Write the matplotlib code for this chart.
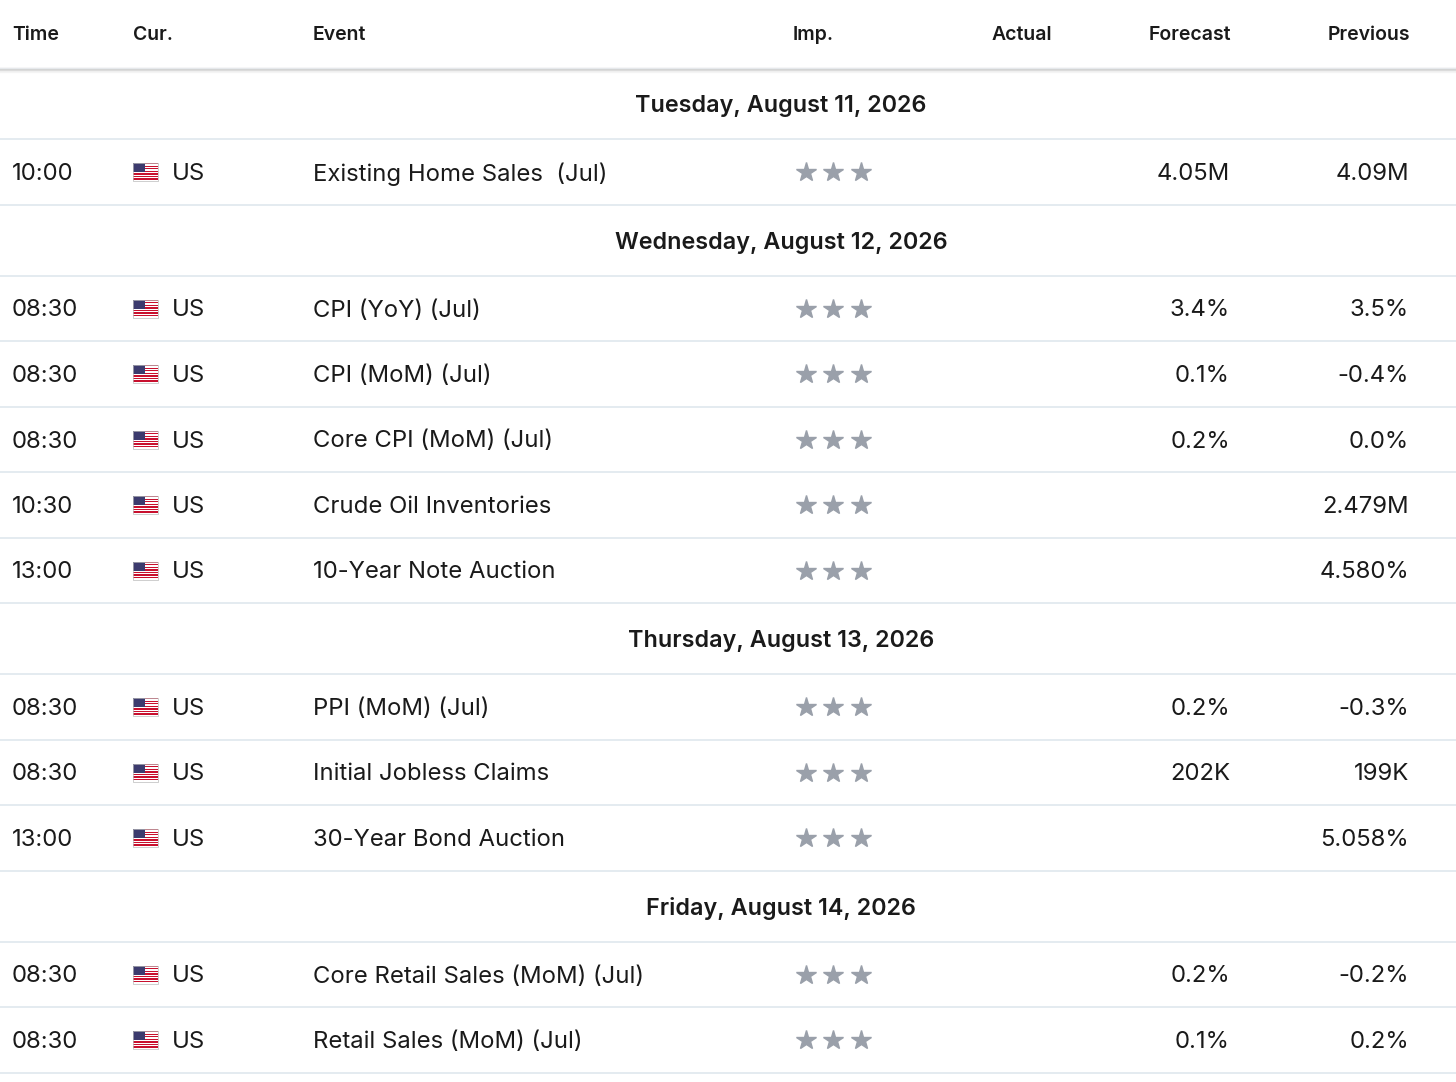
import numpy as np
import matplotlib.pyplot as plt
from matplotlib.patches import Rectangle

plt.rcParams['font.family'] = ['Inter', 'DejaVu Sans']

days = [
    ('Tuesday, August 11, 2026', [
        ('10:00', 'Existing Home Sales  (Jul)', '4.05M', '4.09M')]),
    ('Wednesday, August 12, 2026', [
        ('08:30', 'CPI (YoY) (Jul)', '3.4%', '3.5%'),
        ('08:30', 'CPI (MoM) (Jul)', '0.1%', '-0.4%'),
        ('08:30', 'Core CPI (MoM) (Jul)', '0.2%', '0.0%'),
        ('10:30', 'Crude Oil Inventories', '', '2.479M'),
        ('13:00', '10-Year Note Auction', '', '4.580%')]),
    ('Thursday, August 13, 2026', [
        ('08:30', 'PPI (MoM) (Jul)', '0.2%', '-0.3%'),
        ('08:30', 'Initial Jobless Claims', '202K', '199K'),
        ('13:00', '30-Year Bond Auction', '', '5.058%')]),
    ('Friday, August 14, 2026', [
        ('08:30', 'Core Retail Sales (MoM) (Jul)', '0.2%', '-0.2%'),
        ('08:30', 'Retail Sales (MoM) (Jul)', '0.1%', '0.2%')]),
]

txt = '#1a1a1a'
grid = '#dfe8ee'
star = '#9aa0aa'
fs = 17.2  # row font size

fig = plt.figure(figsize=(14.56, 10.82), dpi=100)
ax = fig.add_axes([0, 0, 1, 1])
ax.set_xlim(0, 1456)
ax.set_ylim(1082, 0)
ax.axis('off')

# header
for i in range(8):  # soft shadow below header
    ax.axhline(68 + i * 0.6, color='#000000', alpha=0.012 * (8 - i), lw=1)
ax.axhline(68, color='#e6e9ec', lw=1)
hy = 35
ax.text(12, hy, 'Time', fontsize=14, weight='semibold', color=txt, va='center')
ax.text(133, hy, 'Cur.', fontsize=14, weight='semibold', color=txt, va='center')
ax.text(313, hy, 'Event', fontsize=14, weight='semibold', color=txt, va='center')
ax.text(793, hy, 'Imp.', fontsize=14, weight='semibold', color=txt, va='center')
ax.text(992, hy, 'Actual', fontsize=14, weight='semibold', color=txt, va='center')
ax.text(1231, hy, 'Forecast', fontsize=14, weight='semibold', color=txt, va='center', ha='right')
ax.text(1410, hy, 'Previous', fontsize=14, weight='semibold', color=txt, va='center', ha='right')

y = 68
for day, rows in days:
    ax.text(781, y + 38, day, fontsize=16.8, weight='semibold', color=txt, va='center', ha='center')
    y += 71
    ax.axhline(y, color=grid, lw=1.2)
    for t, ev, fc, prev in rows:
        yc = y + 33
        ax.text(12, yc + 2, t, fontsize=fs, color=txt, va='center')
        # flag
        for s in range(7):
            ax.add_patch(Rectangle((133, yc - 9 + s * 18 / 7), 25, 18 / 14, color='#c8102e', lw=0))
        ax.add_patch(Rectangle((133, yc - 9), 12, 9, color='#3c3b6e', lw=0))
        ax.add_patch(Rectangle((133, yc - 9), 25, 18, fill=False, ec='#bbbbbb', lw=0.5))
        ax.text(172, yc + 2, 'US', fontsize=fs, color=txt, va='center')
        ax.text(313, yc + 2, ev, fontsize=fs, color=txt, va='center')
        ax.plot([806, 833, 861], [yc, yc, yc], ls='none', marker='*', ms=15, color=star, mec=star)
        ax.text(1230, yc + 2, fc, fontsize=fs, color=txt, va='center', ha='right')
        ax.text(1409, yc + 2, prev, fontsize=fs, color=txt, va='center', ha='right')
        y += 65.5
        ax.axhline(y, color=grid, lw=1.2)

plt.savefig('out.png', dpi=100, facecolor='white')
